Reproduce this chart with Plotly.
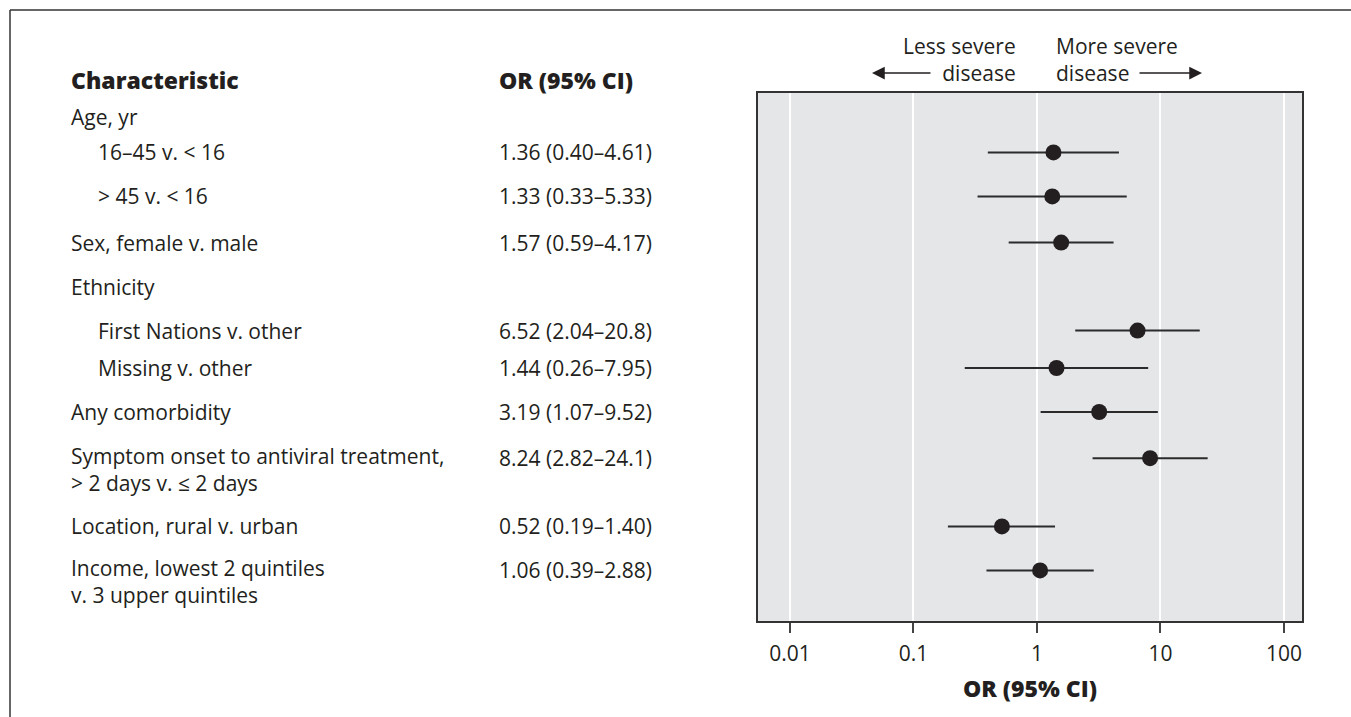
import math
import plotly.graph_objects as go

# Forest plot of odds ratios for severe disease
labels = [
    "Age, yr",
    "16–45 v. < 16",
    "> 45 v. < 16",
    "Sex, female v. male",
    "Ethnicity",
    "First Nations v. other",
    "Missing v. other",
    "Any comorbidity",
    "Symptom onset to antiviral treatment,<br>> 2 days v. ≤ 2 days",
    "Location, rural v. urban",
    "Income, lowest 2 quintiles<br>v. 3 upper quintiles",
]
indent = [0, 1, 1, 0, 0, 1, 1, 0, 0, 0, 0]
odds_ratio = [None, 1.36, 1.33, 1.57, None, 6.52, 1.44, 3.19, 8.24, 0.52, 1.06]
ci_low = [None, 0.40, 0.33, 0.59, None, 2.04, 0.26, 1.07, 2.82, 0.19, 0.39]
ci_high = [None, 4.61, 5.33, 4.17, None, 20.8, 7.95, 9.52, 24.1, 1.40, 2.88]
row_pos = [0.55, 1.35, 2.35, 3.4, 4.4, 5.4, 6.25, 7.25, 8.3, 9.85, 10.85]

tick_vals = [0.01, 0.1, 1, 10, 100]
tick_text = ["0.01", "0.1", "1", "10", "100"]
ref_or = 1

W, H = 1351, 717
FONT = "Open Sans"
TXT = "#231f20"
FS = 21
HFS = 23


def px(x):
    return x / W


def py(y):
    return 1 - y / H


def fmt(v):
    return f"{v:.2f}" if v < 10 else f"{v:.1f}"


pts = [i for i, v in enumerate(odds_ratio) if v is not None]
xs = [odds_ratio[i] for i in pts]
ys = [row_pos[i] for i in pts]
err_plus = [ci_high[i] - odds_ratio[i] for i in pts]
err_minus = [odds_ratio[i] - ci_low[i] for i in pts]

fig = go.Figure()
fig.add_trace(go.Scatter(
    x=xs, y=ys, mode="markers",
    marker=dict(size=16, color=TXT),
    error_x=dict(type="data", symmetric=False, array=err_plus,
                 arrayminus=err_minus, width=0, thickness=2, color="#2b2b2b"),
    showlegend=False, hoverinfo="x",
))

ann = []
# Row labels (two-line labels are centred between their lines) and OR (95% CI) column
for i, lab in enumerate(labels):
    x0 = 96 if indent[i] else 69
    n_lines = lab.count("<br>") + 1
    ann.append(dict(x=px(x0), xref="paper", y=row_pos[i] + 0.25 * (n_lines - 1), yref="y",
                    text=lab, showarrow=False, xanchor="left", yanchor="middle",
                    align="left", font=dict(family=FONT, size=FS, color=TXT)))
    if odds_ratio[i] is not None:
        txt = f"{fmt(odds_ratio[i])} ({fmt(ci_low[i])}–{fmt(ci_high[i])})"
        ann.append(dict(x=px(497), xref="paper", y=row_pos[i], yref="y",
                        text=txt, showarrow=False, xanchor="left", yanchor="middle",
                        font=dict(family=FONT, size=FS, color=TXT)))

# Column headers
for text, x in [("Characteristic", 69), ("OR (95% CI)", 497)]:
    ann.append(dict(x=px(x), xref="paper", y=py(80), yref="paper", text=text,
                    showarrow=False, xanchor="left", yanchor="middle",
                    font=dict(family=FONT, size=HFS, color=TXT, weight=800)))

# Direction labels above the panel
ann.append(dict(x=px(1018), xref="paper", y=py(59.5), yref="paper",
                text="Less severe<br>disease", showarrow=False, xanchor="right",
                yanchor="middle", align="right",
                font=dict(family=FONT, size=FS, color=TXT)))
ann.append(dict(x=px(1054), xref="paper", y=py(59.5), yref="paper",
                text="More severe<br>disease", showarrow=False, xanchor="left",
                yanchor="middle", align="left",
                font=dict(family=FONT, size=FS, color=TXT)))
# Arrows
ann.append(dict(x=px(872), y=py(73), xref="paper", yref="paper", ax=60, ay=0,
                text="", showarrow=True, arrowhead=2, arrowsize=1.7, arrowwidth=1.5,
                arrowcolor=TXT))
ann.append(dict(x=px(1202), y=py(73), xref="paper", yref="paper", ax=-64, ay=0,
                text="", showarrow=True, arrowhead=2, arrowsize=1.7, arrowwidth=1.5,
                arrowcolor=TXT))

shapes = [
    # reference line at OR = 1
    dict(type="line", xref="x", yref="paper", x0=math.log10(ref_or), x1=math.log10(ref_or),
         y0=py(42), y1=py(621), line=dict(color="#555555", width=2, dash="4px,3px"),
         layer="above"),
    # frame lines
    dict(type="line", xref="paper", yref="paper", x0=px(10), x1=1, y0=py(10), y1=py(10),
         line=dict(color="#333333", width=1.5)),
    dict(type="line", xref="paper", yref="paper", x0=px(10), x1=px(10), y0=py(10), y1=0,
         line=dict(color="#333333", width=1.5)),
]

fig.update_layout(
    width=W, height=H, margin=dict(l=0, r=0, t=0, b=0),
    paper_bgcolor="white", plot_bgcolor="#e5e6e8",
    annotations=ann, shapes=shapes,
    xaxis=dict(type="log", domain=[px(758), px(1302)], range=[-2.259, 2.146],
               tickvals=tick_vals, ticktext=tick_text, ticks="outside", ticklen=10,
               tickwidth=2, tickcolor="#444444", showgrid=True, gridcolor="white",
               gridwidth=2, zeroline=False, showline=True, linecolor="#333333",
               linewidth=1.5, mirror=True, ticklabelstandoff=3,
               tickfont=dict(family=FONT, size=FS, color=TXT),
               title=dict(text="OR (95% CI)",
                          font=dict(family=FONT, size=HFS, color=TXT, weight=800),
                          standoff=15)),
    yaxis=dict(domain=[py(621), py(93)], range=[12, 0], showticklabels=False,
               ticks="", showgrid=False, zeroline=False, showline=True,
               linecolor="#333333", linewidth=1.5, mirror=True),
)

fig.write_html("out.html")
